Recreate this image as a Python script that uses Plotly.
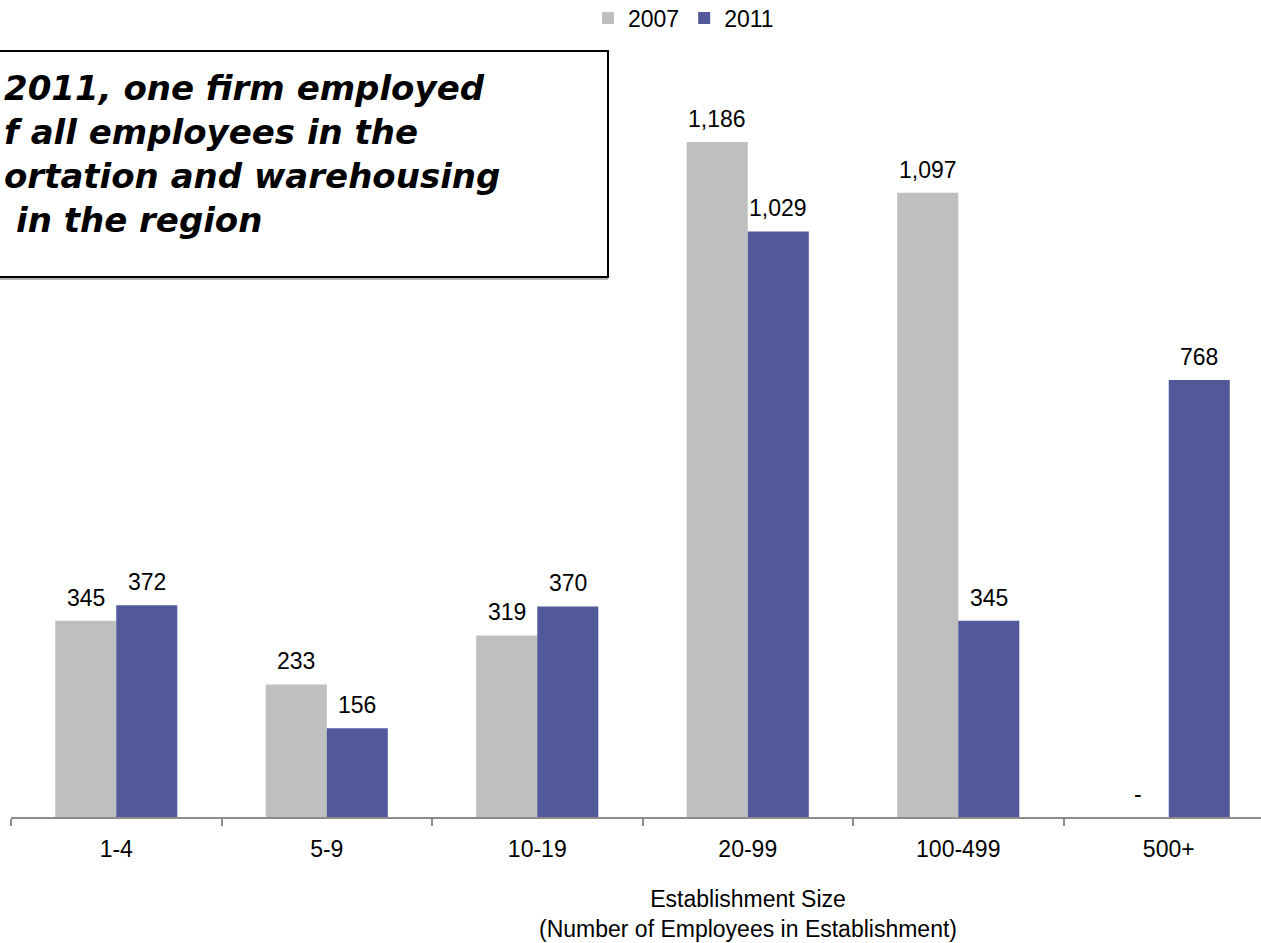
import plotly.graph_objects as go

# ---- data ----
categories = ["1-4", "5-9", "10-19", "20-99", "100-499", "500+"]
series_names = ["2007", "2011"]
values_2007 = [345, 233, 319, 1186, 1097, 0]
values_2011 = [372, 156, 370, 1029, 345, 768]
x_title_lines = ["Establishment Size", "(Number of Employees in Establishment)"]
box_lines = ["2011, one firm employed", "f all employees in the",
             "ortation and warehousing", "in the region"]

# ---- layout geometry (screen pixels; page body margin removed) ----
OFF = 0
W, H = 1261 - OFF, 943 - OFF
ML, MR, MT, MB = 11, 0, 40, 126
PW = W - ML - MR
PH = H - MT - MB
CAT_W = 210.5  # px per category
BAR_OFF = 30.5


def px_x(px):
    return (px - OFF - ML) / PW


def px_y(py):
    return (H - MB - (py - OFF)) / PH


FONT = "Liberation Sans, Arial, sans-serif"
GRAY = "#BFBFBF"
BLUE = "#52599B"

fig = go.Figure()
fig.add_trace(go.Bar(name=series_names[0], x=categories, y=values_2007,
                     marker=dict(color=GRAY, line=dict(width=0))))
fig.add_trace(go.Bar(name=series_names[1], x=categories, y=values_2011,
                     marker=dict(color=BLUE, line=dict(width=0))))

annotations = []
for vals, shift in ((values_2007, -BAR_OFF), (values_2011, BAR_OFF)):
    for c, v in zip(categories, vals):
        annotations.append(dict(
            x=c, y=v, xref="x", yref="y", text=(f"{v:,}" if v else "-"),
            showarrow=False, xanchor="center", yanchor="bottom",
            xshift=shift, yshift=8,
            font=dict(family=FONT, size=23, color="#000000")))

# axis title
annotations.append(dict(
    x=px_x(748), y=px_y(914), xref="paper", yref="paper",
    text="<br>".join(x_title_lines), showarrow=False,
    xanchor="center", yanchor="middle", align="center",
    font=dict(family=FONT, size=23, color="#000000")))

# callout box text
box_line_y = [88, 132, 176, 220]
box_line_x = [2, 2, 2, 14]
for t, yy, xx in zip(box_lines, box_line_y, box_line_x):
    annotations.append(dict(
        x=px_x(xx), y=px_y(yy), xref="paper", yref="paper",
        text=f"<b><i>{t}</i></b>", showarrow=False,
        xanchor="left", yanchor="middle", align="left",
        font=dict(family="DejaVu Sans, sans-serif", size=34, color="#000000")))

shapes = [
    dict(type="rect", xref="paper", yref="paper",
         x0=px_x(-20), x1=px_x(608), y0=px_y(280), y1=px_y(54),
         line=dict(width=0), fillcolor="#b5b5b5", layer="above"),
    dict(type="rect", xref="paper", yref="paper",
         x0=px_x(-20), x1=px_x(608), y0=px_y(277), y1=px_y(51),
         line=dict(width=2, color="#000000"), fillcolor="#FFFFFF", layer="above"),
]

fig.update_layout(
    width=W, height=H,
    margin=dict(l=ML, r=MR, t=MT, b=MB, pad=0, autoexpand=False),
    paper_bgcolor="white", plot_bgcolor="white",
    barmode="group", bargap=0.42, bargroupgap=0,
    font=dict(family=FONT, size=23, color="#000000"),
    showlegend=True,
    legend=dict(orientation="h", x=px_x(588), xanchor="left",
                y=px_y(18), yanchor="middle",
                font=dict(family=FONT, size=23, color="#000000"),
                bgcolor="rgba(0,0,0,0)", traceorder="normal"),
    xaxis=dict(type="category", range=[-0.5, -0.5 + PW / CAT_W],
               showline=True, linecolor="#8C8C8C", linewidth=2,
               ticks="outside", ticklen=7, tickwidth=2, tickcolor="#8C8C8C",
               tickson="boundaries", ticklabelstandoff=10,
               tickfont=dict(family=FONT, size=23, color="#000000"),
               showgrid=False, zeroline=False, fixedrange=True),
    yaxis=dict(visible=False, range=[0, PH / 0.5691], showgrid=False,
               zeroline=False, fixedrange=True),
    annotations=annotations,
    shapes=shapes,
)

fig.write_html(
    "out.html",
    config={"displayModeBar": False, "staticPlot": False},
    post_script="document.body.style.margin='0';document.body.style.overflow='hidden';",
)
